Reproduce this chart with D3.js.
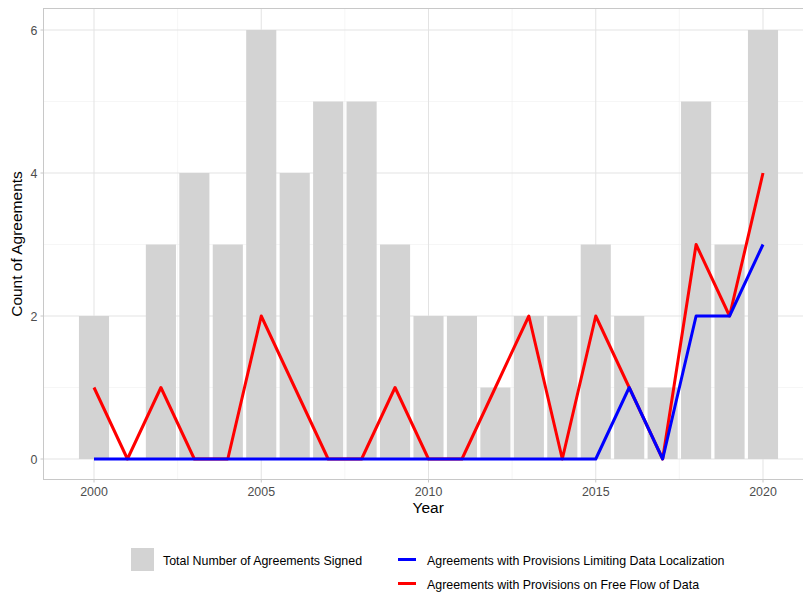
<!DOCTYPE html>
<html><head><meta charset="utf-8">
<script src="https://cdn.jsdelivr.net/npm/d3@7"></script>
<style>body{margin:0;background:#fff;font-family:"Liberation Sans",Arial,sans-serif}</style>
</head><body><svg id="c" width="803" height="595"></svg>
<script>
const years = [2000,2001,2002,2003,2004,2005,2006,2007,2008,2009,2010,2011,2012,2013,2014,2015,2016,2017,2018,2019,2020];
const totalSigned = [2,0,3,4,3,6,4,5,5,3,2,2,1,2,2,3,2,1,5,3,6];
const freeFlow = [1,0,1,0,0,2,1,0,0,1,0,0,1,2,0,2,1,0,3,2,4];
const limitingLocalization = [0,0,0,0,0,0,0,0,0,0,0,0,0,0,0,0,1,0,2,2,3];
const yTicks = [0,2,4,6];
const xTicks = [2000,2005,2010,2015,2020];

const svg = d3.select("#c");
const L=43.5, R=814, T=8.5, B=479.5;
const x = d3.scaleLinear().domain([2000,2020]).range([94,763]);
const y = d3.scaleLinear().domain([0,6]).range([459,30]);
const bw = (x(2001)-x(2000))*0.9;
const g = svg.append("g");
// grid
const minorY=[1,3,5], minorX=[2002.5,2007.5,2012.5,2017.5];
g.selectAll(".my").data(minorY).join("line").attr("x1",L).attr("x2",R).attr("y1",d=>y(d)).attr("y2",d=>y(d)).attr("stroke","#f0f0f0").attr("stroke-width",0.6);
g.selectAll(".mx").data(minorX).join("line").attr("y1",T).attr("y2",B).attr("x1",d=>x(d)).attr("x2",d=>x(d)).attr("stroke","#f0f0f0").attr("stroke-width",0.6);
g.selectAll(".gy").data(yTicks).join("line").attr("x1",L).attr("x2",R).attr("y1",d=>y(d)).attr("y2",d=>y(d)).attr("stroke","#e3e3e3").attr("stroke-width",1);
g.selectAll(".gx").data(xTicks).join("line").attr("y1",T).attr("y2",B).attr("x1",d=>x(d)).attr("x2",d=>x(d)).attr("stroke","#e3e3e3").attr("stroke-width",1);
// bars
g.selectAll(".bar").data(years.map((yr,i)=>({yr,v:totalSigned[i]})).filter(d=>d.v>0)).join("rect")
 .attr("x",d=>x(d.yr)-bw/2).attr("width",bw).attr("y",d=>y(d.v)).attr("height",d=>y(0)-y(d.v)).attr("fill","#d3d3d3");
// lines
const line = d3.line().x((d,i)=>x(years[i])).y(d=>y(d));
g.append("path").attr("d",line(freeFlow)).attr("fill","none").attr("stroke","#ff0000").attr("stroke-width",3).attr("stroke-linejoin","round");
g.append("path").attr("d",line(limitingLocalization)).attr("fill","none").attr("stroke","#0000ff").attr("stroke-width",3).attr("stroke-linejoin","round");
// panel border
g.append("rect").attr("x",L).attr("y",T).attr("width",R-L).attr("height",B-T).attr("fill","none").attr("stroke","#c8c8c8").attr("stroke-width",1);
// axes ticks and labels
g.selectAll(".ty").data(yTicks).join("line").attr("x1",L-3).attr("x2",L).attr("y1",d=>y(d)).attr("y2",d=>y(d)).attr("stroke","#c8c8c8");
g.selectAll(".ly").data(yTicks).join("text").attr("x",L-6).attr("y",d=>y(d)+4.5).attr("text-anchor","end").attr("font-size",12.4).attr("fill","#4d4d4d").text(d=>d);
g.selectAll(".tx").data(xTicks).join("line").attr("y1",B).attr("y2",B+3).attr("x1",d=>x(d)).attr("x2",d=>x(d)).attr("stroke","#c8c8c8");
g.selectAll(".lx").data(xTicks).join("text").attr("x",d=>x(d)).attr("y",B+16).attr("text-anchor","middle").attr("font-size",12.4).attr("fill","#4d4d4d").text(d=>d);
svg.append("text").attr("x",(L+803)/2+5).attr("y",513).attr("text-anchor","middle").attr("font-size",15.5).attr("fill","#000").text("Year");
svg.append("text").attr("transform","translate(22,"+((T+B)/2)+") rotate(-90)").attr("text-anchor","middle").attr("font-size",15.5).attr("fill","#000").text("Count of Agreements");
// legend
svg.append("rect").attr("x",131).attr("y",548).attr("width",23).attr("height",23).attr("fill","#d3d3d3");
svg.append("text").attr("x",163).attr("y",564.5).attr("font-size",12.4).attr("fill","#000").text("Total Number of Agreements Signed");
svg.append("line").attr("x1",398).attr("x2",416).attr("y1",559.5).attr("y2",559.5).attr("stroke","#0000ff").attr("stroke-width",3);
svg.append("text").attr("x",427).attr("y",564.5).attr("font-size",12.4).attr("fill","#000").text("Agreements with Provisions Limiting Data Localization");
svg.append("line").attr("x1",398).attr("x2",416).attr("y1",583.5).attr("y2",583.5).attr("stroke","#ff0000").attr("stroke-width",3);
svg.append("text").attr("x",427).attr("y",588.5).attr("font-size",12.4).attr("fill","#000").text("Agreements with Provisions on Free Flow of Data");
</script></body></html>
